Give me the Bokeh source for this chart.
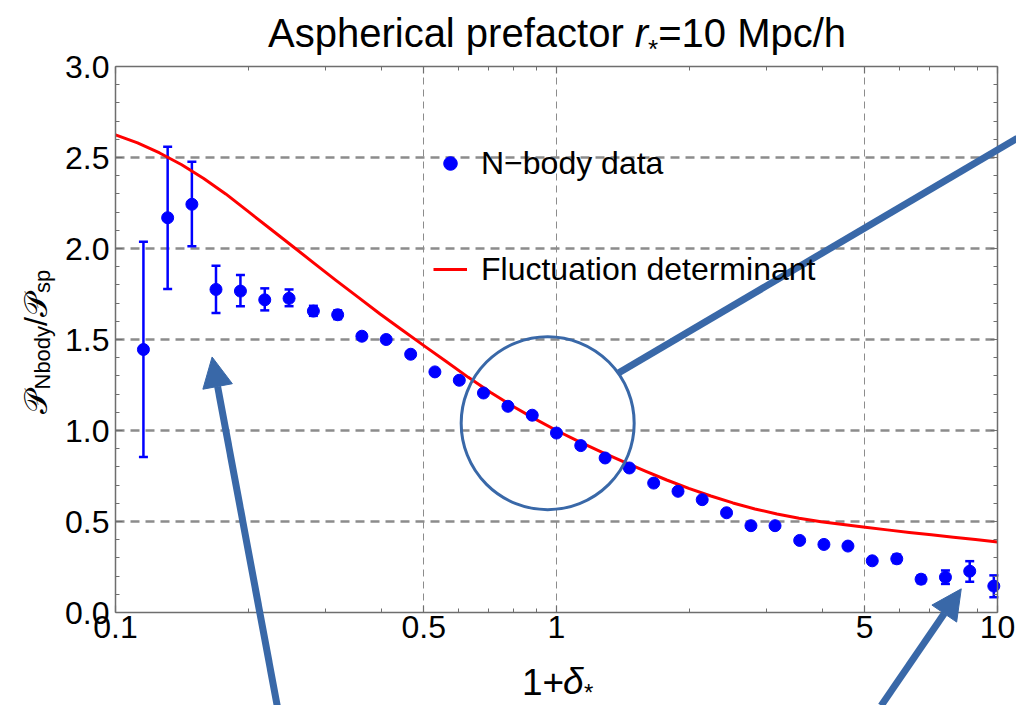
import numpy as np
from bokeh.plotting import figure
from bokeh.models import (FixedTicker, LinearAxis, LogAxis, NumeralTickFormatter, Label,
                          Legend, LegendItem, Whisker, TeeHead, Arrow, NormalHead,
                          ColumnDataSource, Range1d, Grid)
from bokeh.embed import file_html
from bokeh.resources import INLINE

# ---------------- data ----------------
delta_plus_one = [0.1157, 0.1313, 0.149, 0.169, 0.192, 0.218, 0.2475, 0.281, 0.319, 0.362,
                  0.411, 0.467, 0.530, 0.602, 0.683, 0.776, 0.881, 1.0, 1.135, 1.289,
                  1.463, 1.661, 1.886, 2.14, 2.43, 2.76, 3.13, 3.56, 4.04, 4.58,
                  5.20, 5.91, 6.71, 7.62, 8.65, 9.81]
nbody_ratio = [1.445, 2.169, 2.243, 1.775, 1.766, 1.718, 1.726, 1.656, 1.636, 1.518,
               1.500, 1.419, 1.322, 1.276, 1.206, 1.133, 1.084, 0.986, 0.917, 0.849,
               0.794, 0.711, 0.666, 0.620, 0.548, 0.477, 0.477, 0.396, 0.374, 0.365,
               0.284, 0.295, 0.183, 0.194, 0.227, 0.145]
nbody_upper = [2.037, 2.559, 2.477, 1.905, 1.854, 1.781, 1.775, 1.685, 1.660, 1.535,
               1.515, 1.432, 1.334, 1.288, 1.216, 1.143, 1.093, 0.994, 0.925, 0.857,
               0.801, 0.718, 0.673, 0.627, 0.555, 0.485, 0.486, 0.405, 0.384, 0.376,
               0.298, 0.318, 0.205, 0.231, 0.282, 0.204]
nbody_lower = [0.854, 1.778, 2.013, 1.646, 1.683, 1.660, 1.683, 1.630, 1.612, 1.501,
               1.485, 1.406, 1.310, 1.264, 1.196, 1.123, 1.075, 0.978, 0.909, 0.841,
               0.787, 0.704, 0.659, 0.613, 0.541, 0.469, 0.468, 0.387, 0.364, 0.354,
               0.270, 0.272, 0.161, 0.157, 0.169, 0.084]

curve_x = [0.1, 0.1122, 0.1259, 0.1413, 0.1585, 0.1778, 0.1995, 0.2239, 0.2512, 0.2818,
           0.3162, 0.3548, 0.3981, 0.4467, 0.5012, 0.5623, 0.631, 0.7079, 0.7943, 0.8913,
           1.0, 1.122, 1.259, 1.413, 1.585, 1.778, 1.995, 2.239, 2.512, 2.818,
           3.162, 3.548, 3.981, 4.467, 5.012, 5.623, 6.31, 7.079, 7.943, 8.913, 10.0]
curve_y = [2.624, 2.580, 2.525, 2.460, 2.385, 2.300, 2.205, 2.110, 2.015, 1.920,
           1.825, 1.733, 1.640, 1.552, 1.465, 1.379, 1.292, 1.210, 1.135, 1.065,
           1.0, 0.940, 0.884, 0.830, 0.778, 0.728, 0.682, 0.640, 0.602, 0.569,
           0.541, 0.518, 0.499, 0.483, 0.468, 0.454, 0.440, 0.427, 0.414, 0.401, 0.387]

x_tick_values = [0.1, 0.5, 1, 5, 10]
x_tick_labels = ["0.1", "0.5", "1", "5", "10"]
x_minor_values = [0.2, 0.3, 0.4, 0.6, 0.7, 0.8, 0.9, 2, 3, 4, 6, 7, 8, 9]
y_tick_values = [0.0, 0.5, 1.0, 1.5, 2.0, 2.5, 3.0]
y_minor_values = [round(0.1 * i, 1) for i in range(31) if i % 5 != 0]
x_lim = (0.1, 10.0)
y_lim = (0.0, 3.0)

# annotation (circle and arrows) positions in data space
circle_center = (0.955, 1.04)
arrow_line = (1.3755, 1.313, 11.09, 2.606)
arrow_left = (0.2326, -0.5116, 0.1656, 1.404)
arrow_right = (5.447, -0.5116, 8.276, 0.130)

# ---------------- styles / layout ----------------
FONT = "Liberation Sans"
BLUE = "#0000ff"
RED = "#ff0000"
ANN = "#3968a8"
FRAME = "#6e6e6e"
GRID = "#8c8c8c"

W, H = 1016, 705
L, R, T, B = 115, 19, 66, 93          # position of the plotting box inside the canvas
fw, fh = W - L - R, H - T - B
dec = fw / (np.log10(x_lim[1]) - np.log10(x_lim[0]))
xs = 10 ** (np.log10(x_lim[0]) - L / dec)
xe = 10 ** (np.log10(x_lim[1]) + R / dec)
ppu = fh / (y_lim[1] - y_lim[0])
ys = y_lim[0] - B / ppu
ye = y_lim[1] + T / ppu

p = figure(width=W, height=H, x_axis_type="log", x_axis_location=None, y_axis_location=None,
           x_range=Range1d(xs, xe), y_range=Range1d(ys, ye),
           output_backend="svg", toolbar_location=None, min_border=0)
p.title.visible = False
p.outline_line_color = None
p.background_fill_color = "white"
p.border_fill_color = "white"
p.center = [c for c in p.center if not isinstance(c, Grid)]

xticker = FixedTicker(ticks=x_tick_values, minor_ticks=x_minor_values)
yticker = FixedTicker(ticks=y_tick_values, minor_ticks=y_minor_values)

bottom_axis = LogAxis(ticker=xticker, fixed_location=y_lim[0], bounds=x_lim)
top_axis = LogAxis(ticker=xticker, fixed_location=y_lim[1], bounds=x_lim)
left_axis = LinearAxis(ticker=yticker, fixed_location=x_lim[0], bounds=y_lim,
                       formatter=NumeralTickFormatter(format="0.0"))
right_axis = LinearAxis(ticker=yticker, fixed_location=x_lim[1], bounds=y_lim)
bottom_axis.major_label_overrides = {v: s for v, s in zip(x_tick_values, x_tick_labels)}

p.add_layout(bottom_axis, "below")
p.add_layout(top_axis, "above")
p.add_layout(left_axis, "left")
p.add_layout(right_axis, "right")

for ax in [bottom_axis, top_axis, left_axis, right_axis]:
    ax.axis_line_color = FRAME
    ax.axis_line_width = 1.5
    ax.major_tick_line_color = FRAME
    ax.minor_tick_line_color = FRAME
    ax.major_tick_line_width = 1.2
    ax.minor_tick_line_width = 1
    ax.major_tick_in = 7
    ax.major_tick_out = 0
    ax.minor_tick_in = 4
    ax.minor_tick_out = 0
    ax.major_label_text_font = FONT
    ax.major_label_text_font_size = "32px"
    ax.major_label_text_color = "black"

bottom_axis.major_label_standoff = 3
left_axis.major_label_standoff = 6
for ax in [top_axis, right_axis]:
    ax.major_label_text_font_size = "0px"
    ax.major_label_standoff = 0
    ax.major_label_text_alpha = 0

xgrid = Grid(dimension=0, ticker=FixedTicker(ticks=[0.5, 1, 5]), cross_bounds=y_lim,
             grid_line_color=GRID, grid_line_width=1, grid_line_dash="7 5")
ygrid = Grid(dimension=1, ticker=FixedTicker(ticks=[0.5, 1.0, 1.5, 2.0, 2.5]), cross_bounds=x_lim,
             grid_line_color=GRID, grid_line_width=2.5, grid_line_dash="9 6")
p.add_layout(xgrid)
p.add_layout(ygrid)

# ---------------- data marks ----------------
src = ColumnDataSource(dict(x=delta_plus_one, y=nbody_ratio, upper=nbody_upper, lower=nbody_lower))
curve = p.line(curve_x, curve_y, line_color=RED, line_width=3, line_join="round")
whisk = Whisker(source=src, base="x", upper="upper", lower="lower",
                line_color=BLUE, line_width=2.5,
                upper_head=TeeHead(size=9, line_color=BLUE, line_width=2.5),
                lower_head=TeeHead(size=9, line_color=BLUE, line_width=2.5))
p.add_layout(whisk)
pts = p.scatter("x", "y", source=src, size=12, marker="circle",
                fill_color=BLUE, line_color=BLUE)

legend = Legend(items=[LegendItem(label="N\u2212body data", renderers=[pts]),
                       LegendItem(label="Fluctuation determinant", renderers=[curve])],
                location=(433, 416), padding=0, margin=0, spacing=66,
                glyph_width=34, glyph_height=40, label_height=40, label_standoff=14,
                label_text_font=FONT, label_text_font_size="32px", label_text_color="black",
                border_line_color=None, background_fill_alpha=0)
p.add_layout(legend)

# ---------------- annotations ----------------
p.scatter([circle_center[0]], [circle_center[1]], size=173, marker="circle",
          fill_color=None, line_color=ANN, line_width=3)
p.add_layout(Arrow(end=None, x_start=arrow_line[0], y_start=arrow_line[1],
                   x_end=arrow_line[2], y_end=arrow_line[3], line_color=ANN, line_width=7))
for a in [arrow_left, arrow_right]:
    p.add_layout(Arrow(end=NormalHead(size=30, fill_color=ANN, line_color=ANN, line_width=1),
                       x_start=a[0], y_start=a[1], x_end=a[2], y_end=a[3],
                       line_color=ANN, line_width=7))

# ---------------- title and axis labels (composed text, canvas pixels) ----------------
def lab(text, cx, cy_mid, size, style="normal", angle=0):
    """cx: left start; cy_mid: vertical middle of the text (canvas px)."""
    p.add_layout(Label(text=text, x=cx, y=H - cy_mid, x_units="screen", y_units="screen",
                       text_font=FONT, text_font_size=f"{size}px", text_font_style=style,
                       text_color="black", angle=angle, text_align="left",
                       text_baseline="middle"))

def hlab(text, cx, baseline, size, style="normal"):
    lab(text, cx, baseline - 0.35 * size, size, style)

# title: "Aspherical prefactor r*=10 Mpc/h"
hlab("Aspherical prefactor", 267.5, 46, 40)
hlab("r", 634.3, 46, 40, "italic")
hlab("*", 647.6, 58, 26)
hlab("=10 Mpc/h", 657.7, 46, 40)

# x label: 1+delta_*
hlab("1+", 521.5, 694, 37)
hlab("\u03b4", 562.6, 694, 37, "italic")
hlab("*", 583.5, 700, 24)

# y label: P_Nbody / P_sp (rotated; x is the middle line of the text)
ang = np.pi / 2
def vlab(text, xmid, ystart, size):
    p.add_layout(Label(text=text, x=xmid, y=H - ystart, x_units="screen", y_units="screen",
                       text_font=FONT, text_font_size=f"{size}px", text_color="black",
                       angle=ang, text_align="left", text_baseline="middle"))

vlab("\U0001D4AB", 35, 413, 32)
vlab("Nbody", 42, 389, 22)
vlab("/", 35, 325.4, 32)
vlab("\U0001D4AB", 35, 316.4, 32)
vlab("sp", 42, 292.4, 22)

open("out.html", "w").write(file_html(p, INLINE))
